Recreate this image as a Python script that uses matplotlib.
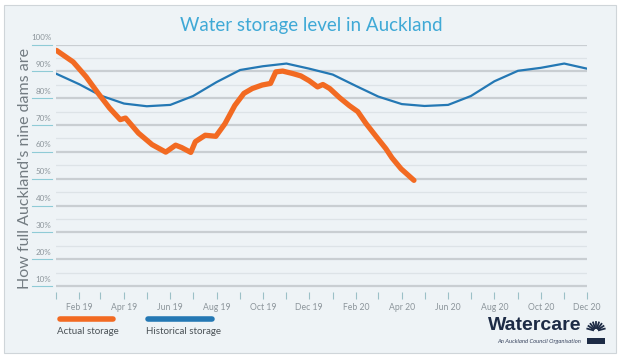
import matplotlib.pyplot as plt
from matplotlib.lines import Line2D
from matplotlib.patches import Rectangle
import numpy as np
import pandas as pd

# actual storage
actual_dates = ['2019-01-02', '2019-01-24', '2019-02-10', '2019-02-26', '2019-03-13',
                '2019-03-27', '2019-04-03', '2019-04-20', '2019-05-08', '2019-05-26',
                '2019-06-08', '2019-06-16', '2019-06-28', '2019-07-04', '2019-07-17',
                '2019-07-31', '2019-08-12', '2019-08-25', '2019-09-06', '2019-09-17',
                '2019-09-30', '2019-10-11', '2019-10-18', '2019-10-27', '2019-11-09',
                '2019-11-20', '2019-12-01', '2019-12-12', '2019-12-19', '2019-12-28',
                '2020-01-10', '2020-01-23', '2020-02-03', '2020-02-14', '2020-02-27',
                '2020-03-11', '2020-03-19', '2020-03-31', '2020-04-17']
actual_level = [97.8, 93.5, 88.0, 81.8, 76.3,
                72.0, 72.6, 67.0, 62.7, 59.9,
                62.5, 61.6, 59.8, 63.8, 66.2,
                65.8, 70.5, 77.3, 81.8, 83.6,
                84.9, 85.5, 89.8, 90.1, 89.2,
                88.3, 86.5, 84.2, 85.1, 83.6,
                80.2, 77.2, 75.0, 70.5, 65.8,
                61.2, 57.8, 53.7, 49.4]

# historical storage, monthly
hist_dates = pd.date_range('2019-01-01', '2020-12-01', freq='MS')
hist_level = [89.2, 85.2, 81.0, 78.0, 77.0, 77.5, 80.8, 86.0, 90.5, 91.9, 92.9, 91.0,
              88.8, 84.5, 80.6, 77.8, 77.1, 77.5, 80.8, 86.3, 90.2, 91.3, 92.9, 91.0]

y_ticks = [10, 20, 30, 40, 50, 60, 70, 80, 90, 100]
month_ticks = pd.date_range('2019-01-01', '2020-12-01', freq='MS')

orange = '#f26a22'
blue = '#2478b4'
grey_txt = '#8c959b'

plt.rcParams['font.family'] = ['Lato', 'DejaVu Sans']

fig = plt.figure(figsize=(6.2, 3.59), dpi=100, facecolor='white')
fig.add_artist(Rectangle((4 / 620, 1 - 353 / 359), 612 / 620, 348 / 359,
                         transform=fig.transFigure, facecolor='#eef3f6',
                         edgecolor='#cfd5d9', lw=0.8, zorder=-10))

ax = fig.add_axes([55.7 / 620, 1 - 292 / 359, 531.3 / 620, 247.5 / 359])
ax.set_facecolor('none')
ax.set_ylim(7.8, 100)
ax.set_xlim(month_ticks[0], month_ticks[-1])

# gridlines: dark on tens, light on fives
for v in y_ticks:
    ax.axhline(v, color='#c9ced2', lw=1.6, zorder=1)
    if v > 10:
        ax.axhline(v - 5, color='#dde3e7', lw=0.9, zorder=1)
    ax.text(-0.008, v + 2.6, f'{v}%', transform=ax.get_yaxis_transform(),
            ha='right', va='center', fontsize=5.8, color=grey_txt)
    ax.plot([-0.045, -0.007], [v, v], transform=ax.get_yaxis_transform(),
            color='#8fcbd6', lw=0.8, clip_on=False)

ax.plot(hist_dates, hist_level, color=blue, lw=1.6, zorder=3)
ax.plot(pd.to_datetime(actual_dates), actual_level, color=orange, lw=3.8,
        solid_capstyle='round', solid_joinstyle='round', zorder=4)

for s in ax.spines.values():
    s.set_visible(False)
ax.set_yticks([])
ax.set_xticks(month_ticks)
ax.set_xticklabels([d.strftime('%b %y') if d.month % 2 == 0 else '' for d in month_ticks])
ax.tick_params(axis='x', length=5, width=0.8, color='#9cc0c7', pad=3,
               labelsize=6.2, labelcolor=grey_txt)

ax.set_ylabel("How full Auckland's nine dams are", fontsize=11.5, color='#737c82',
              labelpad=17)

fig.text(0.502, 0.93, 'Water storage level in Auckland', ha='center', va='center',
         fontsize=13.5, color='#3fa9d6')

# legend
fig.add_artist(Line2D([60 / 620, 113 / 620], [1 - 319 / 359] * 2, color=orange, lw=4,
                      solid_capstyle='round'))
fig.add_artist(Line2D([148 / 620, 212 / 620], [1 - 319 / 359] * 2, color=blue, lw=4,
                      solid_capstyle='round'))
fig.text(57 / 620, 1 - 331 / 359, 'Actual storage', fontsize=7, color='#4a5156',
         va='center')
fig.text(146 / 620, 1 - 331 / 359, 'Historical storage', fontsize=7, color='#4a5156',
         va='center')

# logo
fig.text(581 / 620, 1 - 326 / 359, 'Watercare', ha='right', va='center',
         fontsize=14, fontweight='bold', color='#1d2b45', family='Liberation Sans')
fig.text(581 / 620, 1 - 341 / 359, 'An Auckland Council Organisation', ha='right',
         va='center', fontsize=4.2, style='italic', color='#3a4660')
cx, cy = 596 / 620, 1 - 331 / 359
for a in np.linspace(15, 165, 9):
    r = np.radians(a)
    fig.add_artist(Line2D([cx + 3 * np.cos(r) / 620, cx + 9 * np.cos(r) / 620],
                          [cy + 3 * np.sin(r) / 359, cy + 9 * np.sin(r) / 359],
                          color='#1d2b45', lw=1.3))
fig.add_artist(Rectangle((587 / 620, 1 - 344 / 359), 18 / 620, 6 / 359,
                         transform=fig.transFigure, facecolor='#1d2b45', lw=0))

fig.savefig('out.png', dpi=100, facecolor='white')
